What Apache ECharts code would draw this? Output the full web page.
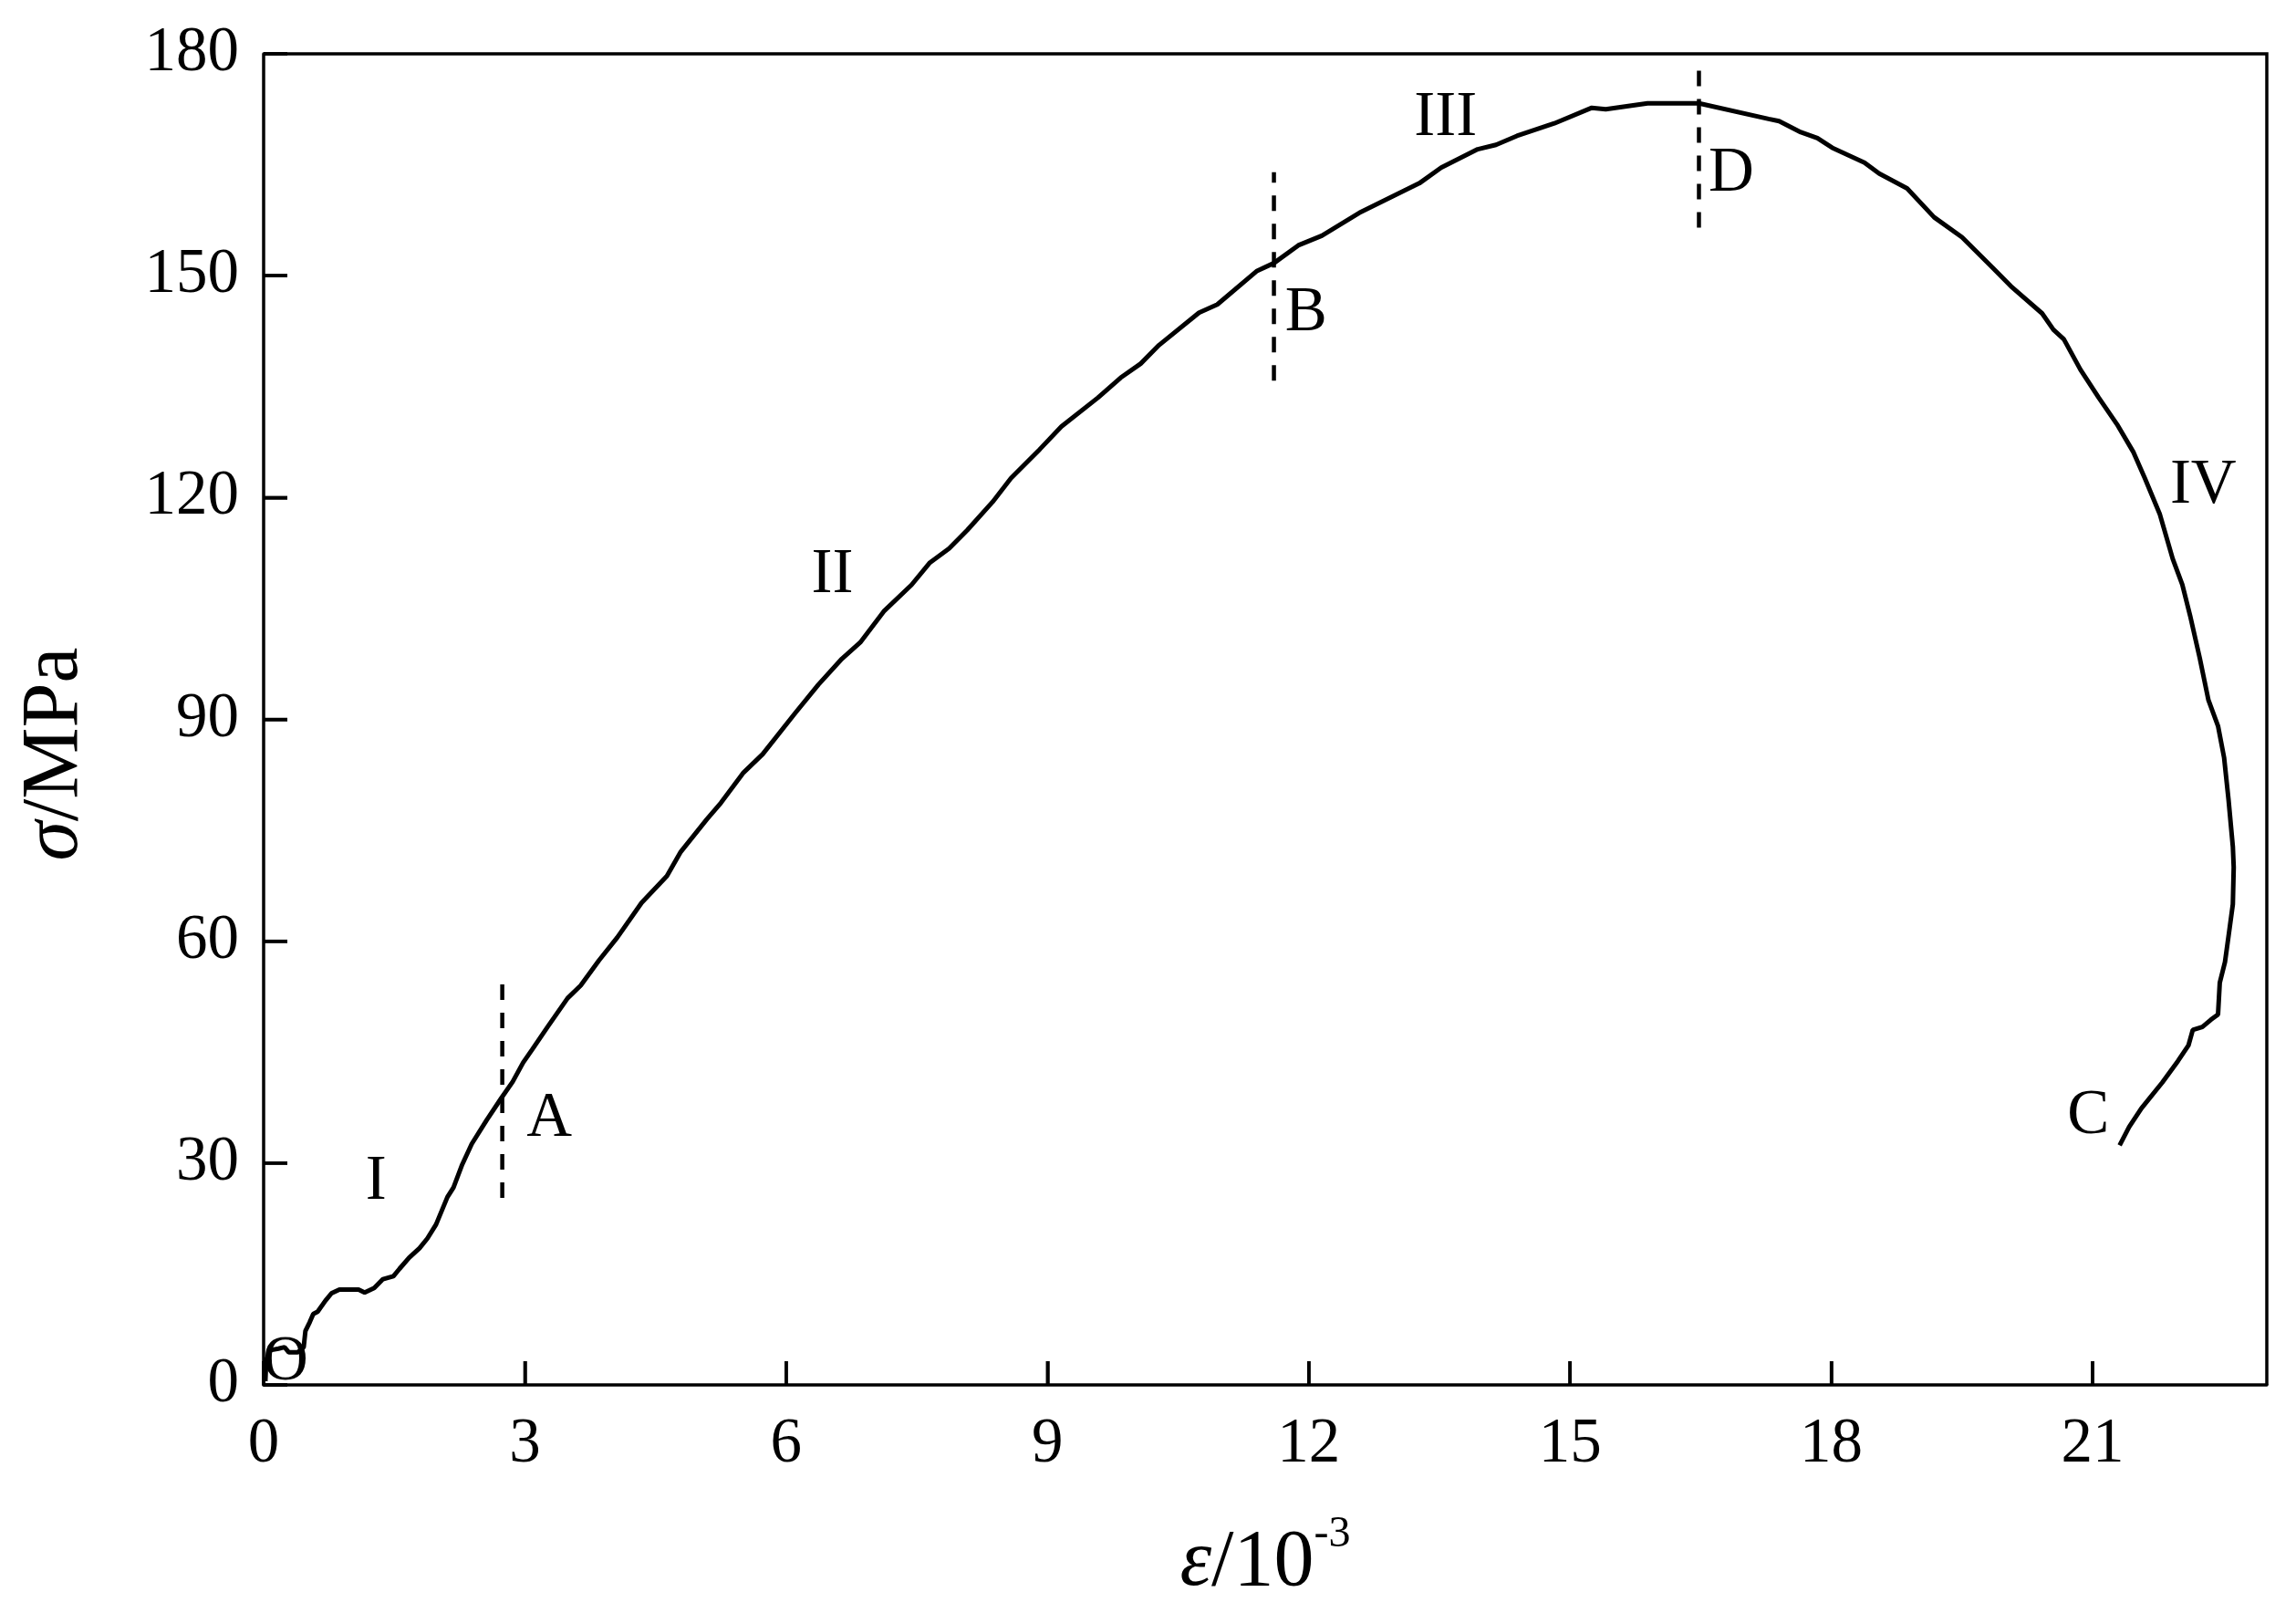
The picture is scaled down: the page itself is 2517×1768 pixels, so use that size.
<!DOCTYPE html>
<html>
<head>
<meta charset="utf-8">
<script src="https://cdn.jsdelivr.net/npm/echarts@6/dist/echarts.min.js"></script>
<style>
html,body{margin:0;padding:0;background:#fff;}
#chart{width:2517px;height:1768px;}
</style>
</head>
<body>
<div id="chart"></div>
<script>
// ---- data (strain in 10^-3, stress in MPa) ----
const strainStress = [
  [0.02,0.5],[0.03,3.4],[0.08,4.7],[0.17,4.9],[0.24,5.1],[0.29,4.4],[0.39,4.4],[0.46,5.1],
  [0.48,7.3],[0.53,8.5],[0.57,9.6],[0.62,9.9],[0.71,11.4],[0.78,12.4],[0.87,12.9],[1.09,12.9],
  [1.16,12.5],[1.27,13.1],[1.37,14.3],[1.49,14.7],[1.56,15.7],[1.67,17.2],[1.79,18.5],[1.88,19.8],
  [1.98,21.7],[2.11,25.4],[2.18,26.7],[2.28,29.8],[2.39,32.6],[2.56,35.8],[2.73,38.8],[2.86,41.0],
  [2.98,43.6],[3.08,45.3],[3.26,48.4],[3.49,52.3],[3.64,54.0],[3.85,57.4],[4.06,60.5],[4.34,65.2],
  [4.63,68.8],[4.79,72.1],[5.09,76.5],[5.25,78.7],[5.51,82.8],[5.73,85.3],[6.10,90.8],[6.37,94.7],
  [6.64,98.2],[6.85,100.4],[7.12,104.6],[7.44,108.2],[7.65,111.2],[7.87,113.1],[8.08,115.6],[8.37,119.4],
  [8.58,122.6],[8.91,126.5],[9.16,129.6],[9.58,133.5],[9.84,136.2],[10.07,138.1],[10.28,140.6],[10.74,145.0],
  [10.95,146.1],[11.40,150.6],[11.60,151.7],[11.88,154.1],[12.15,155.4],[12.58,158.5],[13.27,162.5],[13.52,164.6],
  [13.94,167.1],[14.15,167.7],[14.39,168.9],[14.82,170.6],[15.25,172.7],[15.41,172.5],[15.89,173.3],[16.48,173.3],
  [17.28,171.2],[17.40,170.9],[17.65,169.4],[17.84,168.6],[18.01,167.3],[18.38,165.3],[18.55,163.8],[18.87,161.8],
  [19.18,157.9],[19.50,155.2],[19.85,151.1],[20.06,148.6],[20.42,144.9],[20.55,142.7],[20.67,141.4],[20.86,137.3],
  [21.07,133.5],[21.28,129.9],[21.47,126.1],[21.60,122.6],[21.77,117.8],[21.92,111.7],[22.03,108.2],[22.12,104.0],
  [22.23,98.3],[22.33,92.6],[22.44,89.1],[22.51,84.8],[22.56,79.2],[22.61,72.8],[22.62,70.0],[22.61,65.0],
  [22.57,61.5],[22.52,57.2],[22.46,54.4],[22.44,50.1],[22.36,49.4],[22.26,48.4],[22.15,48.0],[22.10,45.9],
  [21.98,43.8],[21.80,40.9],[21.56,37.4],[21.42,34.9],[21.31,32.4]
];
const dashA = [[2.74,25.3],[2.74,55.6]];
const dashB = [[11.60,135.8],[11.60,164.0]];
const dashD = [[16.48,156.5],[16.48,178.8]];
const pointLabels = ['O','I','A','II','B','III','D','IV','C'];
const pointLabelX = [0.25,1.29,3.28,6.53,11.97,13.57,16.85,22.27,20.95];
const pointLabelY = [3.6,28.0,36.5,110.1,145.5,171.9,164.3,122.2,36.9];
const xTicks = [0,3,6,9,12,15,18,21];
const yTicks = [0,30,60,90,120,150,180];
const X_MIN = 0, X_MAX = 23, Y_MIN = 0, Y_MAX = 180;

const FONT = "'Liberation Serif','Times New Roman',serif";
const TICK_LEN = 26;
const chart = echarts.init(document.getElementById('chart'));

const dashStyle = {color:'#000', width:4.5, type:[17,14]};
const dashSeries = [dashA, dashB, dashD].map(d => ({
  type:'line', data:d, showSymbol:false, symbol:'none', silent:true,
  lineStyle:dashStyle, z:3
}));

// inward tick marks, placed through the axis scales
function tickSeries(values, isX) {
  return {
    type:'custom', silent:true, clip:false, z:6,
    data: values.map(v => isX ? [v, Y_MIN] : [X_MIN, v]),
    renderItem: (params, api) => {
      const p = api.coord([api.value(0), api.value(1)]);
      const end = isX ? [p[0], p[1] - TICK_LEN] : [p[0] + TICK_LEN, p[1]];
      return {type:'line', shape:{x1:p[0], y1:p[1], x2:end[0], y2:end[1]},
              style:{stroke:'#000', lineWidth:3.5}};
    }
  };
}

// top and right sides of the plot frame, placed through the axis scales
const frameSeries = {
  type:'custom', silent:true, clip:false, z:6,
  data:[[X_MIN, Y_MAX]],
  renderItem: (params, api) => {
    const a = api.coord([X_MIN, Y_MAX]);
    const b = api.coord([X_MAX, Y_MAX]);
    const c = api.coord([X_MAX, Y_MIN]);
    return {type:'polyline', shape:{points:[a, b, c]},
            style:{stroke:'#000', lineWidth:3.5, fill:null, lineJoin:'miter'}};
  }
};

const axisLineStyle = {show:true, lineStyle:{color:'#000', width:3.5}};

chart.setOption({
  animation:false,
  grid:{left:289, right:32, top:59, bottom:250},
  xAxis:{
    type:'value', min:X_MIN, max:X_MAX, interval:3, position:'bottom',
    name:'{i|ε}{n|/10}{s|-3}',
    nameLocation:'middle', nameGap:140,
    nameTextStyle:{
      fontFamily:FONT, color:'#000',
      rich:{
        i:{fontFamily:FONT, fontStyle:'italic', fontSize:88, lineHeight:100, verticalAlign:'bottom'},
        n:{fontFamily:FONT, fontSize:88, lineHeight:100, verticalAlign:'bottom'},
        s:{fontFamily:FONT, fontSize:48, lineHeight:100, verticalAlign:'top'}
      }
    },
    axisLine:axisLineStyle,
    axisTick:{show:true, inside:true, length:TICK_LEN, lineStyle:{color:'#000', width:3.5}},
    splitLine:{show:false},
    axisLabel:{
      fontFamily:FONT, fontSize:69, color:'#000', margin:31, showMaxLabel:false,
      formatter: v => xTicks.indexOf(v) >= 0 ? String(v) : ''
    }
  },
  yAxis:{
    type:'value', min:Y_MIN, max:Y_MAX, interval:30, position:'left',
    name:'{i|σ}{n|/MPa}',
    nameLocation:'middle', nameGap:178, nameRotate:90,
    nameTextStyle:{
      fontFamily:FONT, color:'#000', padding:[0,76,0,0],
      rich:{
        i:{fontFamily:FONT, fontStyle:'italic', fontSize:88, lineHeight:100},
        n:{fontFamily:FONT, fontSize:88, lineHeight:100}
      }
    },
    axisLine:axisLineStyle,
    axisTick:{show:true, inside:true, length:TICK_LEN, lineStyle:{color:'#000', width:3.5}},
    splitLine:{show:false},
    axisLabel:{
      fontFamily:FONT, fontSize:69, color:'#000', margin:27,
      formatter: v => yTicks.indexOf(v) >= 0 ? String(v) : ''
    }
  },
  series:[
    {
      type:'line', data:strainStress, showSymbol:false, symbol:'none', smooth:false,
      lineStyle:{color:'#000', width:5}, z:4
    },
    ...dashSeries,
    tickSeries(xTicks, true),
    tickSeries(yTicks, false),
    frameSeries,
    {
      type:'scatter', symbolSize:0, itemStyle:{color:'#000', opacity:1}, silent:true, z:5,
      data: pointLabels.map((t,i) => ({name:t, value:[pointLabelX[i], pointLabelY[i]]})),
      label:{show:true, position:'inside', offset:[0,5], formatter:'{b}', fontFamily:FONT, fontSize:69,
             color:'#000', opacity:1, textBorderWidth:0}
    }
  ]
});
</script>
</body>
</html>
